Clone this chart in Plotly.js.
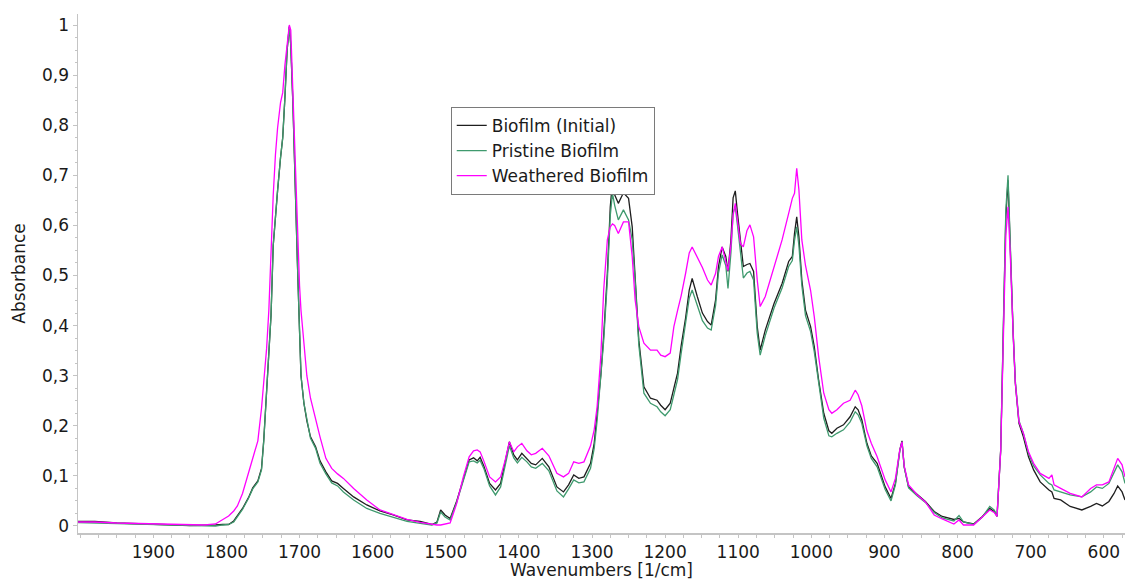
<!DOCTYPE html>
<html>
<head>
<meta charset="utf-8">
<script src="https://cdn.plot.ly/plotly-3.0.1.min.js"></script>
<style>html,body{margin:0;padding:0;background:#fff;}#chart{width:1126px;height:580px;}</style>
</head>
<body>
<div id="chart"></div>
<script>
const wavenumbers = [2003,1980,1950,1920,1900,1870,1850,1830,1815,1805,1797,1790,1785,1778,1770,1764,1757,1752,1749,1745,1742,1739,1736,1733,1730,1726,1723,1720,1717,1714,1712,1709,1706,1703,1700,1698,1694,1690,1685,1678,1672,1664,1656,1648,1640,1626,1608,1590,1572,1553,1535,1519,1512,1507,1501,1494,1485,1476,1468,1462,1457,1453,1448,1440,1432,1425,1419,1413,1407,1402,1396,1389,1383,1377,1368,1359,1348,1339,1332,1325,1318,1311,1302,1297,1293,1288,1284,1279,1275,1272,1269,1264,1257,1250,1245,1241,1236,1229,1220,1211,1206,1200,1193,1188,1183,1178,1172,1167,1163,1156,1149,1142,1137,1131,1127,1122,1117,1114,1110,1107,1104,1101,1097,1093,1088,1084,1079,1074,1070,1063,1051,1040,1031,1026,1023,1020,1017,1013,1008,1001,996,990,983,976,972,965,956,947,940,936,931,924,918,910,899,891,885,879,876,873,867,855,844,832,821,805,798,792,778,766,756,750,746,741,737,734,731,728,724,721,716,710,703,696,687,675,671,668,659,646,630,618,610,602,593,586,581,575,571];

const biofilmInitial = [.009,.009,.006,.004,.003,.002,.001,.001,.002,.003,.003,.010,.020,.035,.056,.076,.090,.115,.170,.265,.33,.42,.56,.625,.67,.735,.775,.855,.95,.997,.96,.84,.67,.53,.39,.30,.245,.21,.178,.158,.13,.108,.09,.085,.075,.058,.042,.030,.022,.012,.009,.003,.008,.032,.022,.015,.050,.095,.132,.136,.130,.137,.120,.085,.072,.085,.125,.168,.142,.132,.145,.135,.125,.122,.135,.118,.078,.068,.082,.102,.095,.098,.125,.165,.220,.300,.380,.504,.637,.687,.661,.644,.665,.654,.597,.504,.371,.278,.255,.251,.241,.232,.245,.275,.305,.360,.415,.471,.494,.458,.425,.408,.401,.451,.518,.557,.538,.508,.571,.655,.669,.624,.564,.518,.522,.524,.508,.398,.351,.391,.444,.484,.528,.538,.584,.617,.577,.491,.431,.398,.358,.291,.225,.190,.185,.195,.202,.218,.238,.232,.212,.165,.140,.125,.078,.055,.085,.152,.170,.118,.078,.062,.049,.029,.019,.013,.015,.008,.004,.019,.035,.029,.019,.152,.418,.617,.690,.551,.385,.285,.205,.178,.138,.112,.088,.072,.068,.055,.052,.039,.032,.039,.045,.040,.049,.065,.080,.068,.052];

const pristineBiofilm = [.007,.006,.005,.004,.003,.002,.001,.001,.000,.002,.003,.008,.018,.033,.055,.074,.088,.112,.168,.262,.33,.42,.56,.625,.67,.735,.775,.855,.95,.997,.96,.84,.67,.53,.39,.30,.245,.21,.175,.155,.125,.104,.086,.080,.068,.052,.035,.025,.017,.009,.005,.002,.006,.028,.018,.012,.048,.093,.128,.130,.126,.131,.115,.080,.062,.078,.118,.160,.136,.126,.137,.128,.118,.115,.125,.110,.070,.058,.074,.092,.086,.088,.115,.155,.210,.290,.370,.490,.620,.664,.640,.611,.631,.611,.571,.491,.362,.265,.245,.238,.228,.220,.232,.262,.292,.345,.400,.455,.471,.440,.410,.395,.391,.440,.505,.541,.520,.474,.545,.625,.637,.600,.540,.495,.505,.508,.491,.385,.341,.380,.435,.475,.518,.530,.570,.597,.560,.480,.420,.388,.348,.282,.215,.180,.178,.185,.192,.208,.228,.222,.205,.160,.135,.118,.073,.050,.082,.150,.168,.118,.076,.060,.047,.027,.016,.010,.021,.008,.003,.018,.039,.032,.022,.152,.418,.630,.700,.560,.390,.290,.210,.185,.145,.120,.102,.085,.082,.072,.068,.062,.058,.068,.078,.075,.085,.105,.122,.108,.085];

const weatheredBiofilm = [.008,.008,.006,.005,.004,.003,.002,.002,.004,.012,.020,.030,.040,.065,.105,.140,.170,.235,.290,.355,.43,.55,.66,.74,.795,.845,.865,.92,.965,1.0,.99,.86,.73,.60,.48,.43,.358,.30,.255,.21,.178,.135,.115,.104,.095,.075,.052,.032,.022,.013,.007,.003,.002,.002,.004,.006,.045,.098,.138,.150,.152,.148,.130,.098,.088,.098,.130,.168,.148,.158,.165,.150,.142,.145,.155,.140,.105,.098,.105,.128,.125,.128,.160,.192,.238,.338,.471,.571,.597,.603,.600,.584,.607,.607,.538,.451,.398,.365,.351,.351,.341,.338,.345,.398,.430,.460,.504,.545,.557,.538,.516,.491,.481,.504,.538,.557,.531,.510,.560,.620,.644,.604,.564,.557,.590,.601,.577,.491,.438,.458,.518,.571,.624,.654,.664,.714,.671,.571,.520,.470,.418,.338,.265,.232,.225,.232,.245,.251,.271,.262,.240,.190,.165,.138,.092,.068,.095,.152,.168,.120,.082,.062,.048,.022,.014,.004,.012,.002,.002,.019,.032,.027,.019,.150,.40,.58,.637,.545,.385,.285,.208,.185,.148,.125,.105,.095,.102,.082,.075,.065,.058,.075,.082,.082,.088,.115,.135,.122,.098];

const xTickValues = [1900,1800,1700,1600,1500,1400,1300,1200,1100,1000,900,800,700,600];
const xTickLabels = ['1900','1800','1700','1600','1500','1400','1300','1200','1100','1000','900','800','700','600'];

const seriesNames = ['Biofilm (Initial)', 'Pristine Biofilm', 'Weathered Biofilm'];
const seriesColors = ['#1e1e1e', '#3f9a6e', '#ff00ff'];
const seriesValues = [biofilmInitial, pristineBiofilm, weatheredBiofilm];

const fontFamily = 'DejaVu Sans, Verdana, sans-serif';

const traces = seriesValues.map((vals, i) => ({
  type: 'scatter',
  mode: 'lines',
  x: wavenumbers,
  y: vals,
  name: seriesNames[i],
  line: {color: seriesColors[i], width: 1.3},
  hoverinfo: 'skip'
}));

const layout = {
  width: 1126,
  height: 580,
  margin: {l: 78, r: 1, t: 14, b: 47},
  paper_bgcolor: '#ffffff',
  plot_bgcolor: '#ffffff',
  separators: ', ',
  font: {family: fontFamily, size: 17, color: '#1a1a1a'},
  showlegend: true,
  legend: {
    x: 0.356, y: 0.821, xanchor: 'left', yanchor: 'top',
    bgcolor: '#ffffff', bordercolor: '#7a7a7a', borderwidth: 1,
    font: {family: fontFamily, size: 17, color: '#1a1a1a'},
    itemwidth: 30, tracegroupgap: 0
  },
  xaxis: {
    range: [2003, 571],
    autorange: false,
    tickmode: 'array',
    tickvals: xTickValues,
    ticktext: xTickLabels,
    showline: true, linecolor: '#c4c4c4', linewidth: 1.5,
    ticks: 'outside', ticklen: 3, tickcolor: '#c4c4c4', tickwidth: 1,
    minor: {dtick: 25, tick0: 0, ticks: 'outside', ticklen: 3, tickcolor: '#c4c4c4'},
    showgrid: false, zeroline: false,
    tickfont: {family: fontFamily, size: 17, color: '#1a1a1a'},
    title: {text: 'Wavenumbers [1/cm]', standoff: 4, font: {family: fontFamily, size: 17, color: '#1a1a1a'}},
    automargin: false
  },
  yaxis: {
    range: [-0.014, 1.022],
    autorange: false,
    dtick: 0.1, tick0: 0,
    showline: true, linecolor: '#c4c4c4', linewidth: 1.5,
    ticks: 'outside', ticklen: 4, tickcolor: '#c4c4c4', tickwidth: 1,
    minor: {dtick: 0.025, ticks: 'outside', ticklen: 2, tickcolor: '#c4c4c4'},
    showgrid: false, zeroline: false,
    tickfont: {family: fontFamily, size: 17, color: '#1a1a1a'},
    title: {text: 'Absorbance', standoff: 12, font: {family: fontFamily, size: 17, color: '#1a1a1a'}},
    automargin: false
  }
};

Plotly.newPlot('chart', traces, layout, {displayModeBar: false, staticPlot: true});
</script>
</body>
</html>
